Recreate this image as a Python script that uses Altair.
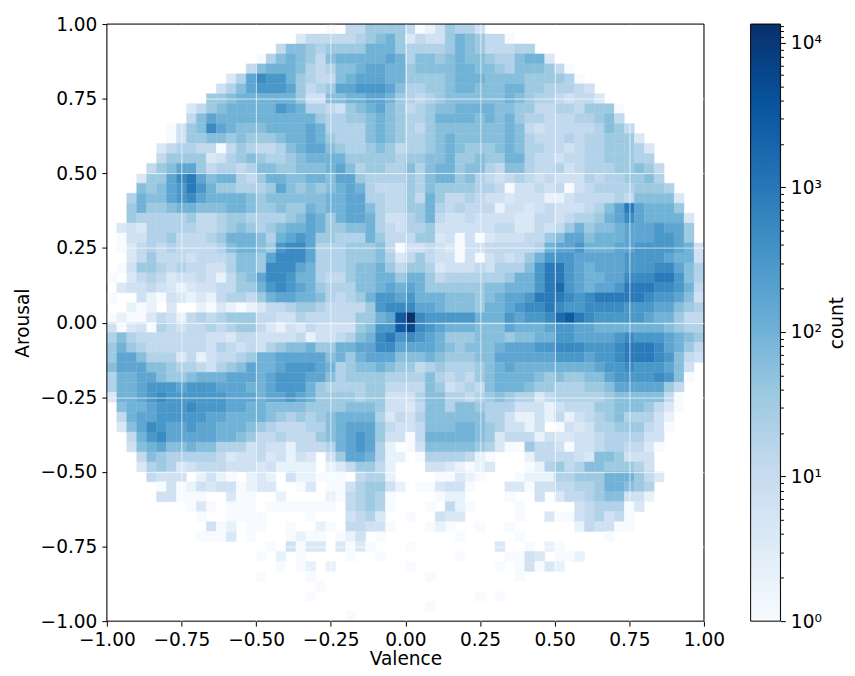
import altair as alt
import pandas as pd

# One string per histogram row (top to bottom), one character per bin, left to right.
ROWS = [
 ".......... .......... ..0.446666 40136553.. .......... ..........",
 ".......... .........2 4444456786 2433687644 0......... ..........",
 ".......... .......477 6566668886 5555687644 455....... ..........",
 ".......... .....05787 6478888898 5776787765 57882..... ..........",
 ".......... ....478887 5457789988 6777788776 5777640... ..........",
 ".......... ..259baa86 5447899988 6666788877 77666650.. ..........",
 ".......... .3579aaa96 45699aaa97 5566788777 886655543. ..........",
 ".......... 6678888886 3377889986 5456777777 8765543442 ..........",
 "........24 6788888a98 5543678976 4567788887 7664455466 60........",
 "........47 9888888888 8655667876 5568888787 8655444556 74........",
 "......0367 b987778888 9855557876 5467777777 8743444445 764.......",
 "......0366 7767666788 9865557876 5567877777 8754445455 6662......",
 ".....24554 4046544578 9976556764 5567876667 8755443455 66652.....",
 ".....46666 2356765567 8888666665 6677866766 8854434455 66655.....",
 "....467996 4554577667 7789756655 7578867754 7754453455 566764....",
 "...2669bc9 7885468877 8879965555 6578867543 4543433354 556675....",
 "...7679aca 8665556976 7678985444 6576666554 0334340345 5556665...",
 "..58779ab9 8888767777 7788995544 6486445433 2333113444 45477772..",
 "..68667887 7788766766 8788997544 6685454441 3323433345 79c98886..",
 "..65555564 4566555567 9868998533 5684334333 3224434556 89b988882.",
 ".232555554 4567656788 9866778543 5563333334 4224346867 78999a996.",
 ".033556444 568887589a 9665558644 4662303023 3344679978 88999aa96.",
 ".024545444 4578876abb 9555666740 3343203344 4445899a88 899aaaa983",
 "..24644434 4457769bbb 9555666752 4643303034 3468aaa999 99aaaa9883",
 ".036654544 335776bbb9 8555677864 6652333435 557acca989 99aaabb975",
 "0.24542334 314679bba8 8544677886 8864555555 688acca988 99bbbcca75",
 ".233432123 344668aba9 8655577898 9866666677 888acda989 9acccbba84",
 "0..3103212 1455468998 8754568aa9 a888777678 99acccbabc ccccbaa973",
 "..101.2..1 0210124456 6544446abb b998777688 9abbcbaabb bbaaa99765",
 "0100243145 4566644335 444446689e gbaaaaa888 a9aabdecba aaaa988644",
 "3023054344 5456642132 4333367aae fba9888777 98889aa998 8888887655",
 "5754444444 3324433334 1334578bca ba98666777 67788aa999 9abaaa9876",
 "6865444444 3543435677 8668899bb9 9998767778 999aabbbaa abcccb9864",
 "6997555241 3445688999 9978689997 7787666779 99999aaa9a abcccba743",
 "7999776554 35679889aa a985677876 6456555678 9888888889 aabaaa973.",
 "5889976678 8899989aaa 9975666655 5575454678 8887676677 9aaaaba70.",
 "5889aaa9aa a999889aaa 8655556644 4476345478 8876655566 79999964..",
 "2889abaaaa aa999899a9 8666656633 3577554567 6552455555 67777740..",
 ".7889aaaba aa99887777 6666777633 2477577655 5333134446 67776420..",
 ".4899aaaaa 9988887656 5678888524 3577777755 3113141345 6755531...",
 ".279ba99a9 9888765444 5578999643 3477788765 3313.03235 5666430...",
 "..48ab9999 9887644544 46789a9633 0488888762 4441322334 555533....",
 "..37897787 7555343314 44589a951. 0377777652 0064430334 554420....",
 "...4765555 5423342313 2.36998511 .05555410. ..14444327 76333.....",
 "...2565234 4433323111 1.1246641. ..3321012. ..01564577 66653.....",
 "....4333.1 310.121.31 1000.4551. ...00210.. .011155666 888642....",
 ".....03013 2330122..0 2.00356631 .002330... 2203344556 88765.....",
 ".....33000 ..200..1.. ..1045650. ...011.... 0..3.24456 77331.....",
 "........02 0.000.0000 000.45650. ..0.410... .0.....345 5502......",
 ".........0 ..0000.... 0...3452.. 0..322.... .0..200345 340.......",
 ".......... 301.00..0. .10.44330. ..010..0.. 0......143 300.......",
 ".........0 002.0...01 00.013.0.. .....0.... .0........ 0.........",
 ".......... ......0.30 22.2020... 0........2 ..0.10.... ..........",
 ".......... .....0.1.0 ....0..0.. .....0.... 0032.001.. ..........",
 ".......... .......0.0 1.1....... 0........0 .03021.... ..........",
 ".......... .....0.... 0......... ..0....... .0........ ..........",
 ".......... .......... .0........ .......... .......... ..........",
 ".......... .......... 0......... .......0.0 .......... ..........",
 ".......... .......... .......... ..0....... .......... ..........",
 ".......... .......... ....0..... .......... .......... ..........",
]
# Count that each character stands for.
LEVEL_COUNTS = {"0": 1, "1": 2, "2": 4, "3": 7, "4": 12, "5": 20, "6": 35, "7": 60, "8": 100,
                "9": 170, "a": 300, "b": 500, "c": 900, "d": 1600, "e": 3000, "f": 6000, "g": 13000}
BINS = 60
BLUES = ["#f7fbff", "#deebf7", "#c6dbef", "#9ecae1", "#6baed6", "#4292c6", "#2171b5", "#08519c", "#08306b"]
COUNT_STOPS = [1, 3.28, 10.8, 35.4, 116, 382, 1254, 4114, 13500]
TICKS = [-1, -0.75, -0.5, -0.25, 0, 0.25, 0.5, 0.75, 1]
DECADES = [1, 10, 100, 1000, 10000]
MINOR = [m * d for d in DECADES[:4] for m in range(2, 10)] + [11000, 12000, 13000]

FONT = "DejaVu Sans"
FS = 18.67

records = []
for r, raw in enumerate(ROWS):
    row = raw.replace(" ", "")
    assert len(row) == BINS, r
    for c, ch in enumerate(row):
        if ch != ".":
            records.append({"v0": -1 + 2 * c / BINS, "v1": -1 + 2 * (c + 1) / BINS,
                            "a0": 1 - 2 * (r + 1) / BINS, "a1": 1 - 2 * r / BINS,
                            "count": LEVEL_COUNTS[ch]})
cells = pd.DataFrame(records)

tick_expr = "replace(format(datum.value, '.2f'), '-', '\u2212')"
grid_op = {"condition": {"test": "abs(datum.value) == 1", "value": 0}, "value": 0.75}
common = dict(values=TICKS, labelExpr=tick_expr, grid=True, gridColor="white", gridWidth=0.9, gridOpacity=grid_op,
              zindex=1, domain=False, tickColor="#000", tickSize=5, labelFontSize=FS, titleFontSize=FS,
              labelFont=FONT, titleFont=FONT, titleFontWeight="normal", labelColor="#000", titleColor="#000",
              labelFlush=False, labelOverlap=False)
color_scale = alt.Scale(type="log", domain=COUNT_STOPS, range=BLUES, interpolate="rgb")
xs = alt.Scale(domain=[-1, 1], nice=False, zero=False)
ys = alt.Scale(domain=[-1, 1], nice=False, zero=False)
x_axis = alt.Axis(title="Valence", labelPadding=4.5, titlePadding=0.5, **common)
y_axis = alt.Axis(title="Arousal", labelPadding=5, titlePadding=8, **common)

heat = alt.Chart(cells).mark_rect(strokeWidth=0.4).encode(
    x=alt.X("v0:Q", scale=xs, axis=x_axis),
    x2="v1:Q",
    y=alt.Y("a0:Q", scale=ys, axis=y_axis),
    y2="a1:Q",
    color=alt.Color("count:Q", legend=None, scale=color_scale),
    stroke=alt.Stroke("count:Q", legend=None, scale=color_scale),
)
frame_data = pd.DataFrame({"v0": [-1], "v1": [1], "a0": [-1], "a1": [1]})
frame = alt.Chart(frame_data).mark_rect(fillOpacity=0, stroke="#000", strokeWidth=1).encode(
    x=alt.X("v0:Q", scale=xs, axis=x_axis), x2="v1:Q",
    y=alt.Y("a0:Q", scale=ys, axis=y_axis), y2="a1:Q",
)
left = alt.layer(heat, frame).properties(width=601, height=601)

bar_gradient = alt.Gradient(
    gradient="linear", x1=0, x2=0, y1=1, y2=0,
    stops=[alt.GradientStop(offset=i / 8, color=col) for i, col in enumerate(BLUES)],
)
bar_data = pd.DataFrame({"lo": [1], "hi": [COUNT_STOPS[-1]]})
label_expr = ("datum.value == 1 ? '10\u2070' : datum.value == 10 ? '10\u00b9' : datum.value == 100 ? '10\u00b2' : "
              "datum.value == 1000 ? '10\u00b3' : datum.value == 10000 ? '10\u2074' : ''")
bar = alt.Chart(bar_data).mark_rect(color=bar_gradient, stroke="#000", strokeWidth=1).encode(
    x=alt.value(0), x2=alt.value(30),
    y=alt.Y("lo:Q", scale=alt.Scale(type="log", domain=[1, COUNT_STOPS[-1]], nice=False),
            axis=alt.Axis(orient="right", values=DECADES + MINOR, title="count", labelExpr=label_expr,
                          grid=False, domain=False, tickColor="#000",
                          tickSize={"condition": {"test": "datum.value == 1 || datum.value == 10 || datum.value == 100 || datum.value == 1000 || datum.value == 10000", "value": 5}, "value": 3},
                          labelFontSize=FS, titleFontSize=FS, labelFont=FONT, titleFont=FONT, titleAngle=270,
                          titleBaseline="top", titleFontWeight="normal", labelColor="#000", titleColor="#000",
                          labelPadding=5, titlePadding=6, labelOverlap=False, labelFlush=False)),
    y2="hi:Q",
).properties(width=30, height=601)

chart = alt.hconcat(left, bar, spacing=24).properties(
    padding={"left": 4.5, "top": 4, "right": 0, "bottom": -4}
).configure_view(stroke=None).configure(background="white")

chart.save("out.html", embed_options={"renderer": "svg", "actions": False})
